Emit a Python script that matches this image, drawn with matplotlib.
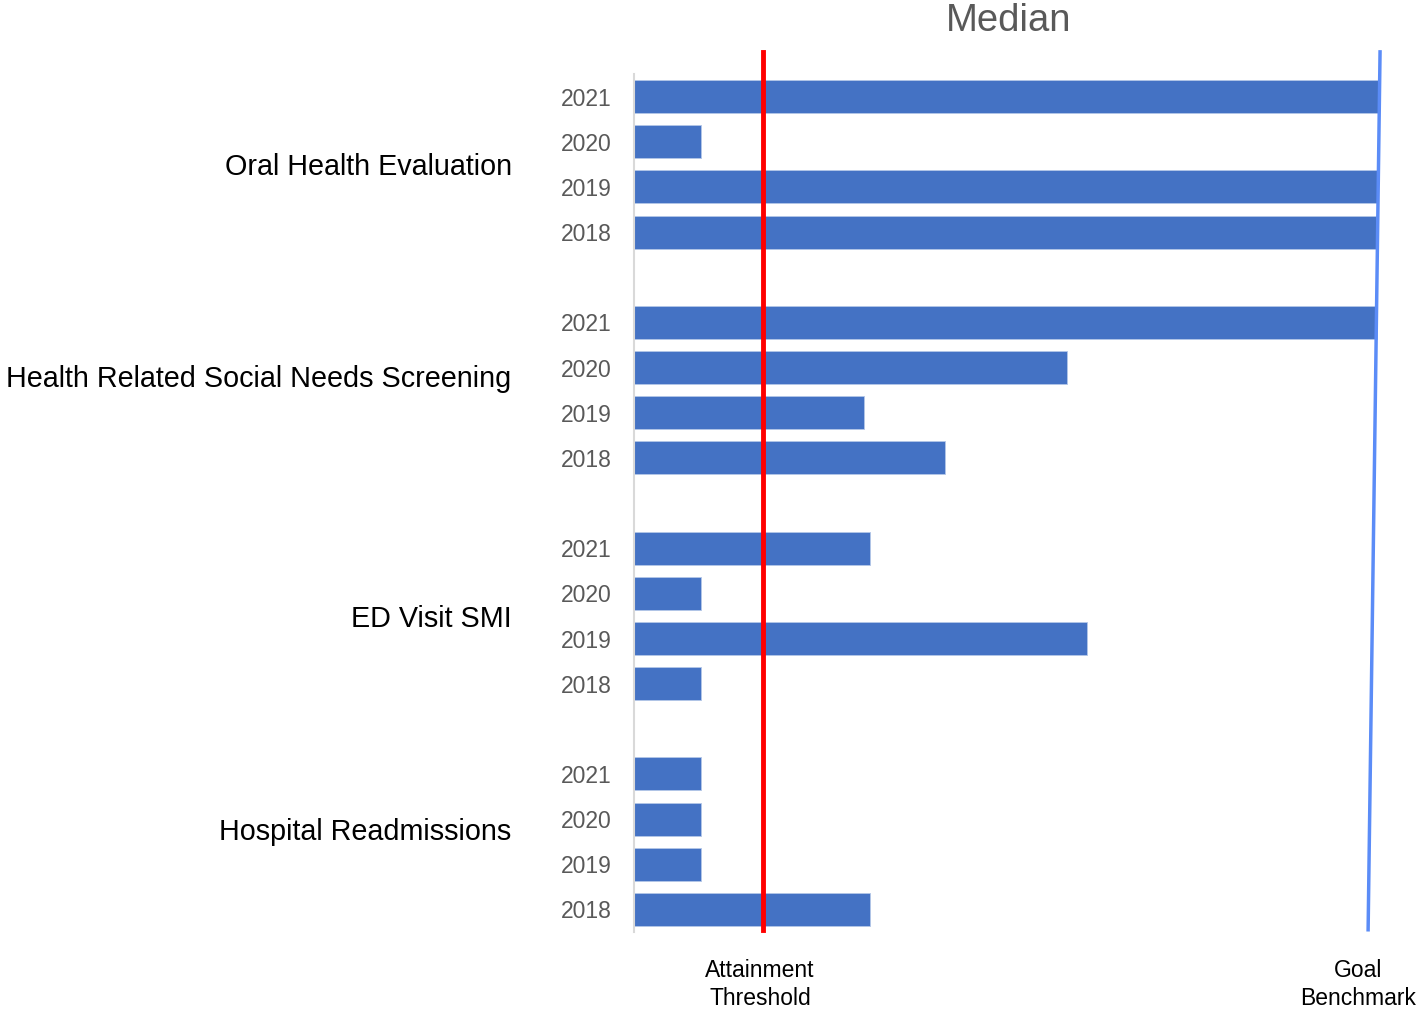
import matplotlib
matplotlib.use("Agg")
import matplotlib.pyplot as plt
import numpy as np

plt.rcParams['font.family'] = ['Liberation Sans', 'DejaVu Sans']

# data (percent of the way to goal benchmark)
measures = ["Oral Health Evaluation", "Health Related Social Needs Screening",
            "ED Visit SMI", "Hospital Readmissions"]
years = ["2021", "2020", "2019", "2018"]
oral = [99.9, 9.0, 99.6, 99.5]
hrsn = [99.6, 58.0, 30.8, 41.7]
ed_smi = [31.6, 9.0, 60.7, 9.0]
readmit = [9.0, 9.0, 9.0, 31.6]
threshold = 17.3
goal_top, goal_bottom = 100.0, 98.4

groups = [oral, hrsn, ed_smi, readmit]
label_y = [1.57, 6.26, 11.57, 16.28]

fig = plt.figure(figsize=(14.22, 10.11), dpi=100)
ax = fig.add_axes([0.4459, 0.0781, 0.5246, 0.8487])

pos, vals, ticklabels = [], [], []
for g, series in enumerate(groups):
    for i, v in enumerate(series):
        pos.append(g * 5 + i)
        vals.append(v)
        ticklabels.append(years[i])

ax.barh(pos, vals, height=0.73, color='#4472C4', edgecolor='#B4C7E7', linewidth=0.6)
ax.set_xlim(0, 100)
ax.set_ylim(18.5, -0.5)
ax.set_yticks(pos)
ax.set_yticklabels(ticklabels, fontsize=16.5, color='#595959')
ax.tick_params(axis='y', length=0, pad=16)
ax.set_xticks([])
for s in ['top', 'right', 'bottom']:
    ax.spines[s].set_visible(False)
ax.spines['left'].set_color('#D9D9D9')
ax.spines['left'].set_linewidth(1.5)

# threshold and goal lines
ax.plot([threshold, threshold], [-0.99, 18.45], color='#FF0000', linewidth=3.5,
        clip_on=False, zorder=5)
ax.plot([goal_top, goal_bottom], [-0.99, 18.45], color='#5B8CF7', linewidth=2.5,
        clip_on=False, zorder=5)

for name, y in zip(measures, label_y):
    ax.text(-0.164, y, name, transform=ax.get_yaxis_transform(), ha='right',
            va='center', fontsize=20.7, color='black')

ax.text(threshold - 0.4, 19.66, "Attainment\nThreshold", ha='center', va='center',
        fontsize=16.5, color='black', linespacing=1.3, clip_on=False)
ax.text(97.0, 19.66, "Goal\nBenchmark", ha='center', va='center',
        fontsize=16.5, color='black', linespacing=1.3, clip_on=False)

fig.text(0.709, 0.979, "Median", ha='center', va='center', fontsize=27.5, color='#595959')

fig.savefig("out.png", dpi=100)
